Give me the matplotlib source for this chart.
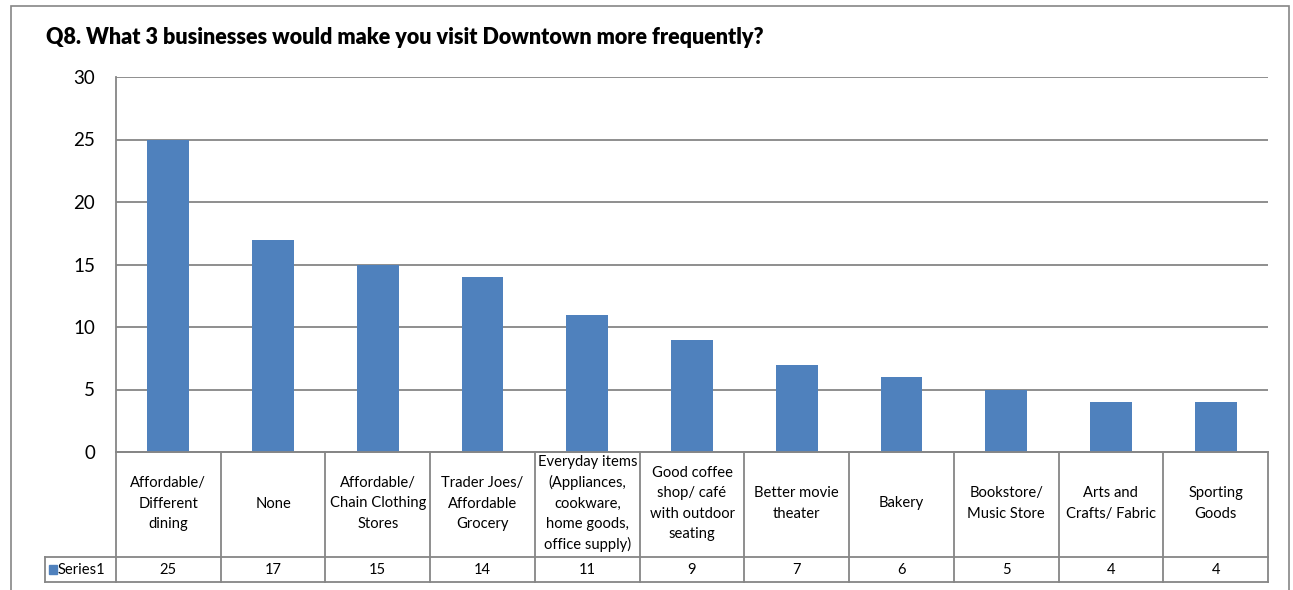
import matplotlib.pyplot as plt
from matplotlib.patches import Rectangle

categories = ["Affordable/\nDifferent\ndining", "None", "Affordable/\nChain Clothing\nStores",
              "Trader Joes/\nAffordable\nGrocery",
              "Everyday items\n(Appliances,\ncookware,\nhome goods,\noffice supply)",
              "Good coffee\nshop/ café\nwith outdoor\nseating", "Better movie\ntheater", "Bakery",
              "Bookstore/\nMusic Store", "Arts and\nCrafts/ Fabric", "Sporting\nGoods"]
values = [25, 17, 15, 14, 11, 9, 7, 6, 5, 4, 4]
series_name = "Series1"
yticks = [0, 5, 10, 15, 20, 25, 30]

plt.rcParams['font.family'] = ['Lato', 'DejaVu Sans']
W, H = 1293, 590
fig = plt.figure(figsize=(W / 100, H / 100), dpi=100)
grey = '#868686'
blue = '#4F81BD'

def fx(px):
    return px / W

def fy(py):
    return 1 - py / H

# outer chart frame
fig.add_artist(Rectangle((fx(11), fy(620)), fx(1289 - 11), (620 - 6) / H,
                         transform=fig.transFigure, fill=False, ec=grey, lw=1.2))

L, R, T, B = 116, 1268, 77, 452
ax = fig.add_axes([fx(L), fy(B), fx(R - L), (B - T) / H])
n = len(values)
x = list(range(n))
ax.bar(x, values, width=0.4, color=blue, zorder=3)
ax.set_xlim(-0.5, n - 0.5)
ax.set_ylim(0, 30)
ax.set_yticks(yticks)
ax.tick_params(axis='y', length=0, labelsize=13.5, pad=15)
ax.set_xticks([])
ax.yaxis.grid(True, color=grey, lw=1.3, zorder=0)
for s in ['top', 'right']:
    ax.spines[s].set_visible(False)
for s in ['left', 'bottom']:
    ax.spines[s].set_color(grey)
    ax.spines[s].set_linewidth(1.3)

fig.text(fx(46), fy(38), "Q8. What 3 businesses would make you visit Downtown more frequently?",
         fontsize=15.5, fontweight='heavy', va='center', ha='left')

# data table under the plot
tax = fig.add_axes([fx(L), fy(582), fx(R - L), (582 - B) / H])
tax.set_xlim(-0.5, n - 0.5)
tax.set_ylim(0, 130)
tax.axis('off')
row = 25
kw = dict(color=grey, lw=1.3, clip_on=False)
for i in range(n + 1):
    tax.plot([i - 0.5, i - 0.5], [0, 130], **kw)
tax.plot([-0.5, n - 0.5], [130, 130], **kw)
cell_w = (n) / (R - L)  # data units per pixel
left_x = -0.5 - (L - 45) * cell_w
tax.plot([left_x, n - 0.5], [row, row], **kw)
tax.plot([left_x, n - 0.5], [0, 0], **kw)
tax.plot([left_x, left_x], [0, row], **kw)
for i, (c, v) in enumerate(zip(categories, values)):
    tax.text(i, (130 + row) / 2 + 1, c, ha='center', va='center', fontsize=10.6, linespacing=1.55)
    tax.text(i, row / 2, str(v), ha='center', va='center', fontsize=10.6)
tax.add_patch(Rectangle((left_x + 4 * cell_w, row / 2 - 4.5), 8 * cell_w, 9, color=blue, clip_on=False))
tax.text(left_x + 13 * cell_w, row / 2, series_name, ha='left', va='center', fontsize=10.6)

fig.savefig("out.png", dpi=100)
